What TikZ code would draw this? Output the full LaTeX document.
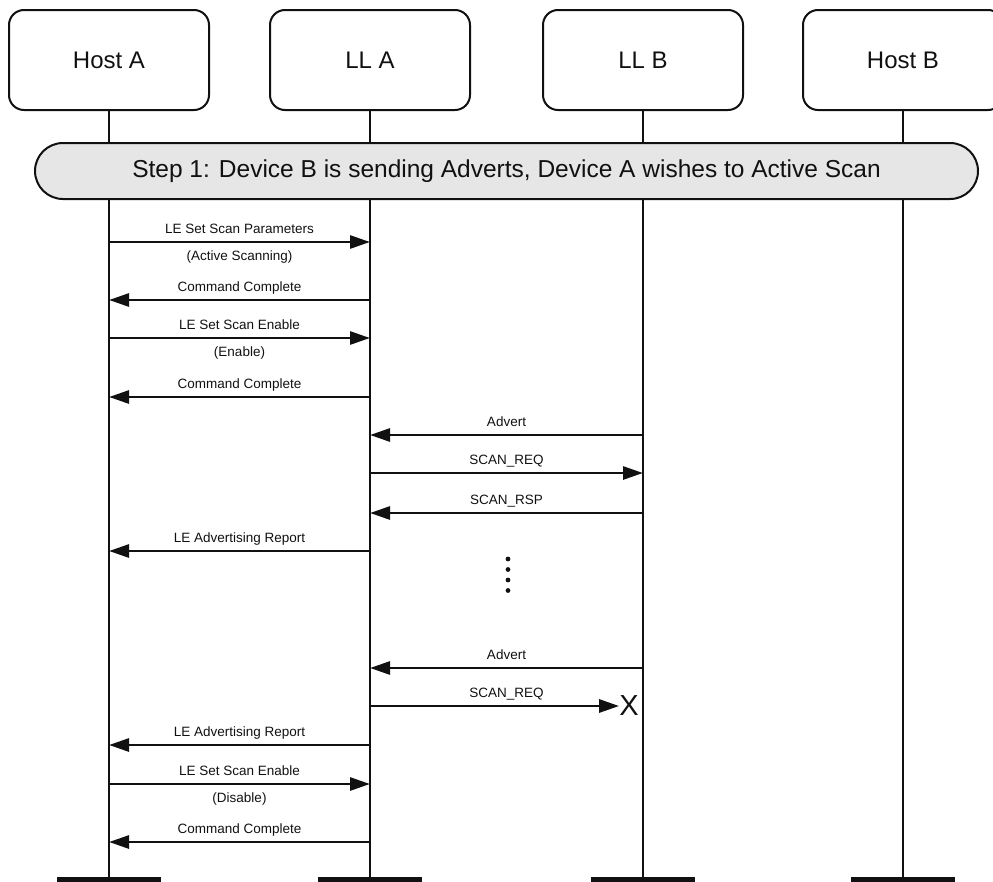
\documentclass[tikz,border=0pt]{standalone}
\usepackage{fontspec}
\setmainfont{Liberation Sans}
\usetikzlibrary{arrows.meta}
\definecolor{ink}{HTML}{111111}
\definecolor{bandgrey}{HTML}{E6E6E6}
\begin{document}
\begin{tikzpicture}[x=1pt,y=-1pt,
  actor/.style={draw=ink, line width=2pt, rounded corners=15pt,
    minimum width=200pt, minimum height=100pt, inner sep=0pt,
    font=\fontsize{24}{28}\selectfont, text=ink},
  stepband/.style={draw=ink, fill=bandgrey, line width=2pt, rounded corners=28pt,
    minimum width=943pt, minimum height=56pt, inner sep=0pt,
    font=\fontsize{24.5}{28}\selectfont, text=ink},
  life/.style={draw=ink, line width=2pt},
  foot/.style={draw=ink, line width=6pt},
  msg/.style={draw=ink, line width=2.8pt, -{Triangle[length=20pt,width=13pt]}},
  lbl/.style={font=\fontsize{13.5}{15}\selectfont, text=ink, anchor=base, inner sep=0pt},
  above lbl/.style={lbl, yshift=9pt},
  below lbl/.style={lbl, yshift=-18pt},
  dot/.style={fill=ink},
]
\useasboundingbox (0,0) rectangle (993,881);
\clip (0,0) rectangle (993,881);

% participants
\node[actor] (hA) at (109,60) {Host A};
\node[actor] (lA) at (370,60) {LL A};
\node[actor] (lB) at (643,60) {LL B};
\node[actor] (hB) at (903,60) {Host B};

% step banner across all lifelines
\node[stepband] (step) at (506.5,171)
  {Step 1: Device B is sending Adverts, Device A wishes to Active Scan};

% lifelines and their feet
\foreach \p in {hA,lA,lB,hB} {
  \coordinate (\p end) at (\p.south |- 0,878);
  \draw[life] (\p.south) -- (\p.south |- step.north);
  \draw[life] (\p.south |- step.south) -- (\p end);
  \draw[foot] (\p end) ++(-52,2) -- ++(104,0);
}

% messages
\draw[msg] (hA |- 0,242) -- node[above lbl] {LE Set Scan Parameters}
  node[below lbl] {(Active Scanning)} (lA |- 0,242);
\draw[msg] (lA |- 0,300) -- node[above lbl] {Command Complete} (hA |- 0,300);
\draw[msg] (hA |- 0,338) -- node[above lbl] {LE Set Scan Enable}
  node[below lbl] {(Enable)} (lA |- 0,338);
\draw[msg] (lA |- 0,397) -- node[above lbl] {Command Complete} (hA |- 0,397);

\draw[msg] (lB |- 0,435) -- node[above lbl] {Advert} (lA |- 0,435);
\draw[msg] (lA |- 0,473) -- node[above lbl] {SCAN\_REQ} (lB |- 0,473);
\draw[msg] (lB |- 0,513) -- node[above lbl] {SCAN\_RSP} (lA |- 0,513);
\draw[msg] (lA |- 0,551) -- node[above lbl] {LE Advertising Report} (hA |- 0,551);

% continuation dots
\foreach \y in {559,569.5,580,590.5}
  \fill[dot] (508,\y) circle (2.4pt);

\draw[msg] (lB |- 0,668) -- node[above lbl] {Advert} (lA |- 0,668);

% lost scan request
\node[font=\fontsize{29}{31}\selectfont, text=ink, inner sep=0pt] (lost) at (629,706) {X};
\path (lA |- 0,706) -- node[above lbl] {SCAN\_REQ} (lB |- 0,706);
\draw[msg] (lA |- 0,706) -- (lost.west);

\draw[msg] (lA |- 0,745) -- node[above lbl] {LE Advertising Report} (hA |- 0,745);
\draw[msg] (hA |- 0,784) -- node[above lbl] {LE Set Scan Enable}
  node[below lbl] {(Disable)} (lA |- 0,784);
\draw[msg] (lA |- 0,842) -- node[above lbl] {Command Complete} (hA |- 0,842);
\end{tikzpicture}
\end{document}
